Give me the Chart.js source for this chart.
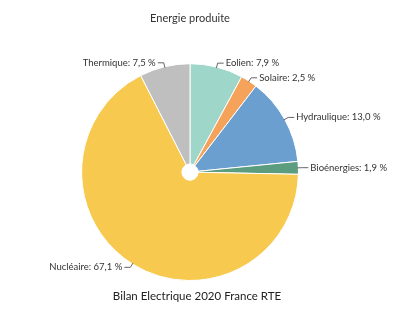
<!DOCTYPE html>
<html>
<head>
<meta charset="utf-8">
<script src="https://cdn.jsdelivr.net/npm/chart.js@4"></script>
<style>
  html,body{margin:0;padding:0;background:#fff;}
  #wrap{width:413px;height:311px;}
</style>
</head>
<body>
<div id="wrap"><canvas id="c" width="413" height="311"></canvas></div>
<script>
const labels=['Eolien','Solaire','Hydraulique','Bioénergies','Nucléaire','Thermique'];
const values=[7.9,2.5,13.0,1.9,67.1,7.5];
const colors=['#9fd6ca','#f5a35a','#6a9fd0','#5c9c7f','#f7c94f','#bfbfbf'];
const titleText='Energie produite';
const footText='Bilan Electrique 2020 France RTE';
const fmt=v=>v.toFixed(1).replace('.',',')+' %';

// etiquettes exterieures avec petit trait coude + texte du bas
const outLabels={
  id:'outLabels',
  afterDatasetsDraw(chart){
    const ctx=chart.ctx;const meta=chart.getDatasetMeta(0);
    ctx.save();
    ctx.font='9.5px Lato, sans-serif';ctx.textBaseline='middle';
    meta.data.forEach((arc,i)=>{
      const p=arc.getProps(['x','y','startAngle','endAngle','outerRadius'],true);
      const mid=(p.startAngle+p.endAngle)/2;
      const c=Math.cos(mid),s=Math.sin(mid);
      const x0=p.x+c*(p.outerRadius-1),y0=p.y+s*(p.outerRadius-1);
      const x1=p.x+c*(p.outerRadius+4),y1=p.y+s*(p.outerRadius+4);
      const dir=c>=0?1:-1;
      const x2=x1+dir*6;
      ctx.strokeStyle='#666';ctx.lineWidth=1;
      ctx.beginPath();ctx.moveTo(x0,y0);ctx.lineTo(x1,y1);ctx.lineTo(x2,y1);ctx.stroke();
      ctx.fillStyle='#333';ctx.textAlign=dir>0?'left':'right';
      ctx.fillText(labels[i]+': '+fmt(values[i]),x2+dir*2,y1);
    });
    ctx.font='11.5px Lato, sans-serif';ctx.fillStyle='#222';ctx.textAlign='center';
    ctx.fillText(footText,197,296);
    ctx.restore();
  }
};

new Chart(document.getElementById('c'),{
  type:'doughnut',
  data:{labels:labels,datasets:[{data:values,backgroundColor:colors,borderColor:'#fff',borderWidth:1,hoverOffset:0}]},
  options:{responsive:false,animation:false,cutout:'7.5%',
    layout:{padding:{left:0,right:33,top:0,bottom:30}},
    plugins:{
      legend:{display:false},tooltip:{enabled:false},
      title:{display:true,text:titleText,color:'#333',font:{family:'Lato, sans-serif',size:11,weight:'normal'},padding:{top:12,bottom:38}}
    }
  },
  plugins:[outLabels]
});
</script>
</body>
</html>
